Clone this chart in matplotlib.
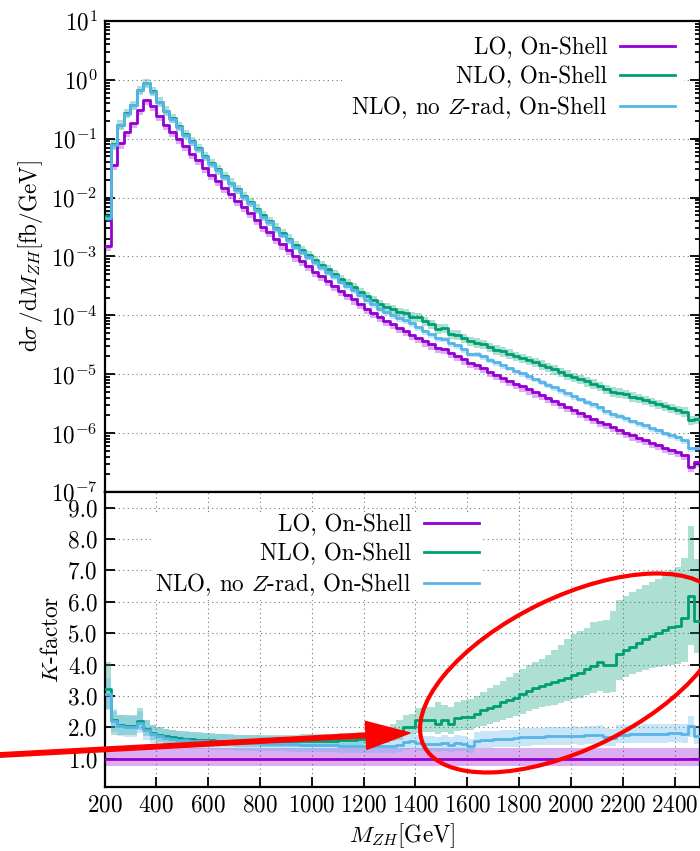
import numpy as np
import matplotlib.pyplot as plt
from matplotlib.ticker import LogLocator, MultipleLocator, FormatStrFormatter
from matplotlib.patches import Ellipse, FancyArrow

plt.rcParams['font.family'] = 'serif'
plt.rcParams['font.serif'] = ['cmr10']
plt.rcParams['mathtext.fontset'] = 'cm'
plt.rcParams['axes.formatter.use_mathtext'] = True
plt.rcParams['font.size'] = 16.7

# 25 GeV bins from 200 to 2500 GeV
EDGES = np.arange(200, 2525, 25)

# LO, On-Shell  d(sigma)/dM_ZH  [fb/GeV], one value per bin
LO = np.array([
    1.48e-3, 3.55e-2, 8.3e-2, 0.132, 0.182, 0.309, 0.457, 0.355, 0.240, 0.174,
    0.132, 9.8e-2, 7.4e-2, 5.6e-2, 4.3e-2, 3.2e-2, 2.45e-2, 1.9e-2, 1.48e-2, 1.15e-2,
    8.9e-3, 6.9e-3, 5.4e-3, 4.2e-3, 3.2e-3, 2.6e-3, 2.0e-3, 1.6e-3, 1.3e-3, 1.0e-3,
    8.3e-4, 6.8e-4, 5.5e-4, 4.6e-4, 3.8e-4, 3.2e-4, 2.6e-4, 2.2e-4, 1.86e-4, 1.55e-4,
    1.29e-4, 1.10e-4, 9.3e-5, 8.1e-5, 7.1e-5, 6.2e-5, 5.4e-5, 4.7e-5, 4.2e-5, 3.6e-5,
    3.2e-5, 2.8e-5, 2.7e-5, 2.3e-5, 2.05e-5, 1.78e-5, 1.58e-5, 1.41e-5, 1.26e-5, 1.10e-5,
    9.8e-6, 8.7e-6, 7.8e-6, 6.9e-6, 6.2e-6, 5.5e-6, 4.9e-6, 4.4e-6, 3.9e-6, 3.5e-6,
    3.1e-6, 2.75e-6, 2.45e-6, 2.2e-6, 1.95e-6, 1.74e-6, 1.55e-6, 1.41e-6, 1.26e-6, 1.12e-6,
    1.02e-6, 9.1e-7, 8.3e-7, 7.6e-7, 6.8e-7, 6.2e-7, 5.6e-7, 5.1e-7, 4.7e-7, 4.2e-7,
    2.7e-7, 3.2e-7])

# K-factors (NLO / LO) per bin
K_NLO = np.array([
    3.23, 2.25, 2.09, 2.05, 2.05, 2.19, 1.95, 1.82, 1.77, 1.72,
    1.69, 1.66, 1.64, 1.62, 1.61, 1.60, 1.59, 1.58, 1.57, 1.56,
    1.56, 1.55, 1.55, 1.55, 1.55, 1.55, 1.55, 1.55, 1.55, 1.56,
    1.56, 1.56, 1.57, 1.57, 1.58, 1.58, 1.59, 1.60, 1.61, 1.62,
    1.63, 1.65, 1.67, 1.72, 1.78, 1.85, 2.00, 2.02, 2.22, 2.22,
    2.24, 2.12, 2.24, 2.10, 2.30, 2.33, 2.32, 2.44, 2.55, 2.62,
    2.68, 2.80, 2.88, 2.95, 3.05, 3.15, 3.24, 3.32, 3.38, 3.44,
    3.50, 3.58, 3.66, 3.72, 3.86, 3.96, 4.09, 4.00, 4.00, 4.35,
    4.48, 4.56, 4.68, 4.80, 4.92, 5.00, 5.10, 5.20, 5.22, 5.50,
    6.18, 5.40])

K_NOZ = np.array([
    3.05, 2.20, 2.05, 2.02, 2.02, 2.15, 1.92, 1.78, 1.72, 1.67,
    1.64, 1.61, 1.59, 1.57, 1.56, 1.55, 1.54, 1.53, 1.52, 1.51,
    1.50, 1.50, 1.49, 1.49, 1.48, 1.48, 1.47, 1.47, 1.46, 1.46,
    1.45, 1.45, 1.44, 1.44, 1.43, 1.43, 1.42, 1.42, 1.42, 1.41,
    1.41, 1.41, 1.40, 1.41, 1.42, 1.45, 1.54, 1.55, 1.50, 1.48,
    1.48, 1.46, 1.49, 1.45, 1.50, 1.48, 1.40, 1.58, 1.60, 1.61,
    1.62, 1.63, 1.64, 1.65, 1.68, 1.69, 1.70, 1.70, 1.71, 1.72,
    1.72, 1.73, 1.74, 1.73, 1.75, 1.76, 1.77, 1.68, 1.67, 1.77,
    1.77, 1.78, 1.78, 1.79, 1.79, 1.80, 1.80, 1.81, 1.81, 1.80,
    2.03, 1.74])

# scale-variation band of the NLO K-factor
K_NLO_LOW = np.array([
    2.57, 1.77, 1.77, 1.75, 1.75, 1.93, 1.71, 1.61, 1.52, 1.50,
    1.48, 1.46, 1.45, 1.44, 1.43, 1.43, 1.42, 1.41, 1.40, 1.40,
    1.39, 1.39, 1.39, 1.39, 1.39, 1.39, 1.39, 1.39, 1.39, 1.39,
    1.39, 1.39, 1.39, 1.40, 1.40, 1.40, 1.41, 1.42, 1.43, 1.44,
    1.46, 1.47, 1.48, 1.50, 1.55, 1.60, 1.78, 1.80, 1.83, 1.84,
    1.85, 1.80, 1.86, 1.80, 1.88, 1.92, 1.93, 2.00, 2.05, 2.10,
    2.16, 2.24, 2.30, 2.36, 2.44, 2.52, 2.58, 2.64, 2.68, 2.72,
    2.78, 2.84, 2.90, 2.95, 3.02, 3.08, 3.15, 3.10, 3.12, 3.50,
    3.62, 3.70, 3.76, 3.82, 3.88, 3.92, 3.96, 4.00, 4.02, 4.08,
    4.64, 4.37])

K_NLO_HIGH = np.array([
    4.08, 2.51, 2.40, 2.40, 2.40, 2.62, 2.25, 2.09, 2.00, 1.96,
    1.93, 1.90, 1.88, 1.86, 1.85, 1.83, 1.82, 1.80, 1.79, 1.78,
    1.77, 1.77, 1.77, 1.77, 1.77, 1.77, 1.77, 1.77, 1.77, 1.77,
    1.78, 1.78, 1.78, 1.79, 1.79, 1.80, 1.81, 1.82, 1.83, 1.85,
    1.86, 1.89, 1.92, 2.00, 2.10, 2.25, 2.38, 2.42, 2.62, 2.64,
    2.66, 2.80, 2.70, 2.64, 2.80, 2.88, 2.90, 3.00, 3.12, 3.24,
    3.36, 3.48, 3.60, 3.74, 3.86, 3.98, 4.08, 4.18, 4.30, 4.45,
    4.62, 4.80, 4.98, 5.08, 5.18, 5.36, 5.40, 5.42, 5.70, 6.05,
    6.20, 6.32, 6.42, 6.52, 6.64, 6.72, 6.86, 7.00, 7.10, 7.40,
    8.41, 7.35])

# relative band factors (low, high)
LO_RATIO_BAND = (0.76, 1.34)
NOZ_RATIO_BAND = (0.84, 1.17)
LO_TOP_BAND = (0.82, 1.04)
NLO_TOP_BAND = (0.82, 1.18)
NOZ_TOP_BAND = (0.87, 1.05)

LABELS = ['LO, On-Shell', 'NLO, On-Shell', r'NLO, no $Z$-rad, On-Shell']
COLORS = ['#9400d3', '#009e73', '#56b4e9']

NLO = LO * K_NLO
NOZ = LO * K_NOZ
K_LO = np.ones_like(LO)


def draw_band(ax, lo, hi, color):
    ax.bar(EDGES[:-1], hi - lo, bottom=lo, width=25, align='edge',
           color=color, alpha=0.32, linewidth=0, zorder=2)


def draw_step(ax, vals, color, label):
    ax.step(EDGES, np.append(vals, vals[-1]), where='post', color=color,
            lw=2, label=label, zorder=3)


fig = plt.figure(figsize=(7, 8.51), dpi=100)
ax1 = fig.add_axes([0.1493, 0.4219, 0.8514, 0.5535])
ax2 = fig.add_axes([0.1493, 0.0752, 0.8514, 0.3467])

# ---- top panel: differential cross section
draw_band(ax1, LO * LO_TOP_BAND[0], LO * LO_TOP_BAND[1], COLORS[0])
draw_band(ax1, NLO * NLO_TOP_BAND[0], NLO * NLO_TOP_BAND[1], COLORS[1])
draw_band(ax1, NOZ * NOZ_TOP_BAND[0], NOZ * NOZ_TOP_BAND[1], COLORS[2])
for vals, c, lab in zip([LO, NLO, NOZ], COLORS, LABELS):
    draw_step(ax1, vals, c, lab)

ax1.set_yscale('log')
ax1.set_xlim(200, 2500)
ax1.set_ylim(1e-7, 1e1)
ax1.yaxis.set_major_locator(LogLocator(base=10, numticks=20))
ax1.yaxis.set_minor_locator(LogLocator(base=10, subs=np.arange(2, 10), numticks=100))
ax1.grid(axis='y', which='major', ls=(0, (1, 3)), color='0.45', lw=0.8)
ax1.set_ylabel(r'$\mathrm{d}\sigma\,/\mathrm{d}M_{ZH}[\mathrm{fb/GeV}]$')
ax1.tick_params(axis='x', which='both', bottom=False, top=False, labelbottom=False)

# ---- bottom panel: K-factor
draw_band(ax2, K_LO * LO_RATIO_BAND[0], K_LO * LO_RATIO_BAND[1], COLORS[0])
draw_band(ax2, K_NLO_LOW, K_NLO_HIGH, COLORS[1])
draw_band(ax2, K_NOZ * NOZ_RATIO_BAND[0], K_NOZ * NOZ_RATIO_BAND[1], COLORS[2])
for vals, c, lab in zip([K_LO, K_NLO, K_NOZ], COLORS, LABELS):
    draw_step(ax2, vals, c, lab)

ax2.set_xlim(200, 2500)
ax2.set_ylim(0.1, 9.5)
ax2.xaxis.set_major_locator(MultipleLocator(200))
ax2.yaxis.set_major_locator(MultipleLocator(1.0))
ax2.yaxis.set_major_formatter(FormatStrFormatter('%.1f'))
ax2.grid(which='major', ls=(0, (1, 3)), color='0.45', lw=0.8)
ax2.set_ylabel(r'$K$-factor')
ax2.set_xlabel(r'$M_{ZH}[\mathrm{GeV}]$')
ax2.tick_params(axis='x', top=False)

for ax in (ax1, ax2):
    ax.set_axisbelow(True)
    ax.tick_params(axis='y', which='both', direction='in', left=True, right=True)
    ax.tick_params(which='both', direction='in', width=1.3, pad=5)
    ax.tick_params(which='major', length=7)
    ax.tick_params(which='minor', length=3.5)
    for sp in ax.spines.values():
        sp.set_linewidth(1.6)

leg_kw = dict(markerfirst=False, frameon=True, fancybox=False, framealpha=1,
              edgecolor='none', facecolor='white', handlelength=2.37,
              handletextpad=0.56, labelspacing=0.27, loc='upper right')
ax1.legend(bbox_to_anchor=(0.9925, 1.0095), borderpad=0.4, **leg_kw)
ax2.legend(bbox_to_anchor=(0.652, 0.972), borderpad=0.1, **leg_kw)

# ---- red highlight drawn on top of the figure (inches)
fig.add_artist(Ellipse((5.72, 1.78), 3.30, 1.52, angle=26, fill=False,
                       edgecolor='red', lw=3, transform=fig.dpi_scale_trans))
fig.add_artist(FancyArrow(0.0, 0.96, 4.10, 0.22, width=0.045, head_width=0.28,
                          head_length=0.44, length_includes_head=True,
                          color='red', transform=fig.dpi_scale_trans))

fig.savefig('out.png', dpi=100)
